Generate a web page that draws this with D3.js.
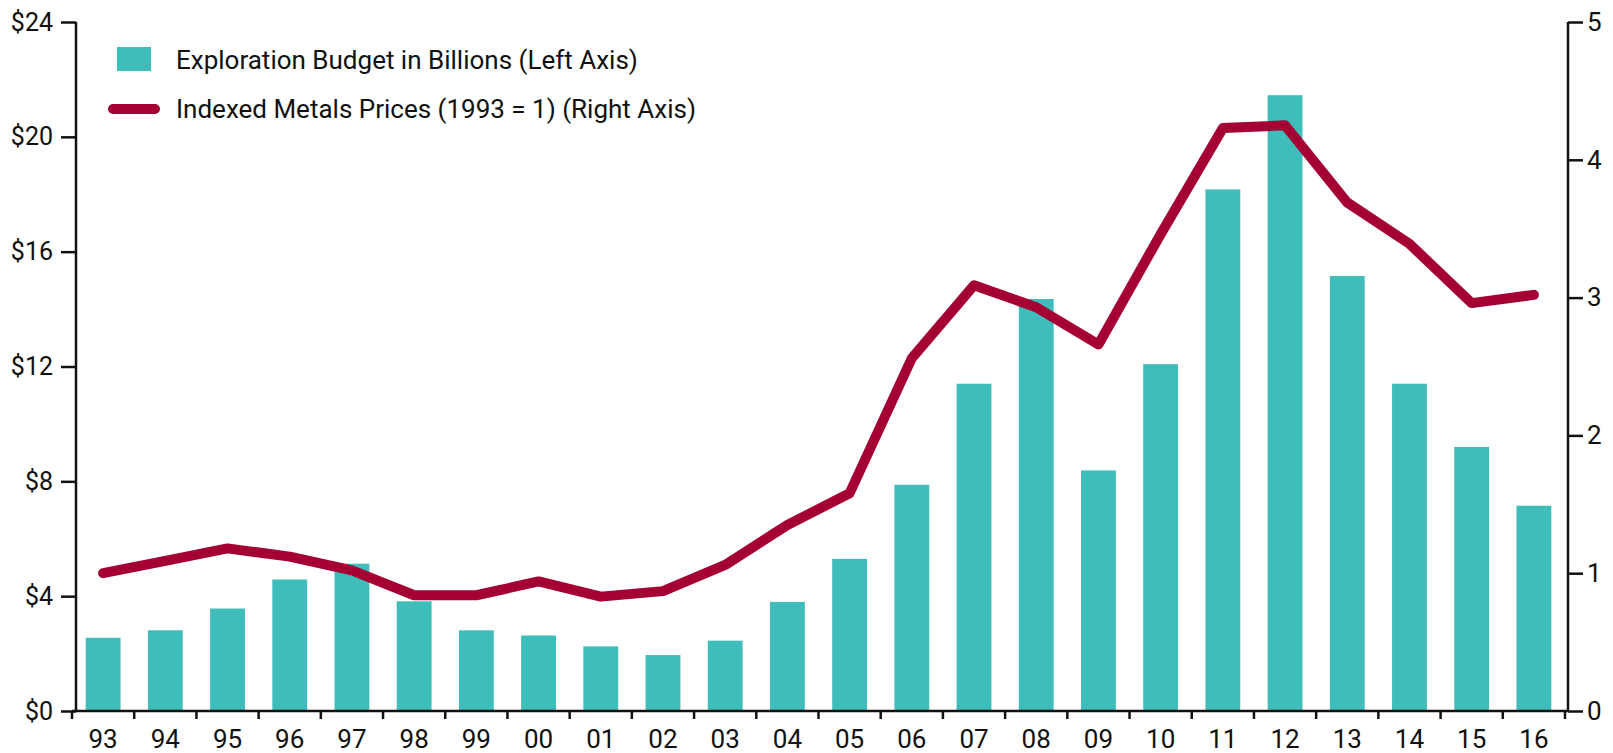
<!DOCTYPE html>
<html>
<head>
<meta charset="utf-8">
<script src="https://cdn.jsdelivr.net/npm/d3@7"></script>
<style>
    body { margin: 0; background: #fff; }
    svg text { font-family: Roboto, 'Open Sans', sans-serif; fill: #111; }
    .axis path, .axis line { stroke: #111; stroke-width: 2.5; }
</style>
</head>
<body>
<div id="chart"></div>
<script>
// Data
var years = ['93', '94', '95', '96', '97', '98', '99', '00', '01', '02', '03', '04',
    '05', '06', '07', '08', '09', '10', '11', '12', '13', '14', '15', '16'];
var budget = [2.55, 2.81, 3.57, 4.58, 5.13, 3.82, 2.81, 2.63, 2.25, 1.95, 2.45, 3.8,
    5.3, 7.88, 11.4, 14.35, 8.38, 12.08, 18.17, 21.45, 15.15, 11.4, 9.2, 7.15];
var metals = [1.0, 1.09, 1.18, 1.12, 1.02, 0.84, 0.84, 0.94, 0.83, 0.87, 1.06, 1.35,
    1.58, 2.56, 3.09, 2.93, 2.66, 3.46, 4.23, 4.25, 3.69, 3.39, 2.96, 3.02];
var leftTicks = [0, 4, 8, 12, 16, 20, 24];
var rightTicks = [0, 1, 2, 3, 4, 5];
var legendLabels = ['Exploration Budget in Billions (Left Axis)', 'Indexed Metals Prices (1993 = 1) (Right Axis)'];

var colors = { bar: '#3EBDBA', line: '#A50034' };

var W = 1613, H = 753;
var svg = d3.select('#chart').append('svg').attr('width', W).attr('height', H);

// Scales
var x = d3.scaleBand().domain(years).range([72, 1565]).paddingInner(0.44).paddingOuter(0.22);
var yL = d3.scaleLinear().domain([0, 24]).range([711, 22]);
var yR = d3.scaleLinear().domain([0, 5]).range([711, 22]);

// Bars
svg.append('g')
    .selectAll('rect')
    .data(budget)
    .enter()
    .append('rect')
    .attr('x', (d, i) => x(years[i]))
    .attr('y', (d) => yL(d))
    .attr('width', x.bandwidth())
    .attr('height', (d) => yL(0) - yL(d))
    .attr('fill', colors.bar);

// Line
var line = d3.line()
    .x((d, i) => x(years[i]) + x.bandwidth() / 2)
    .y((d) => yR(d));
svg.append('path')
    .datum(metals)
    .attr('d', line)
    .attr('fill', 'none')
    .attr('stroke', colors.line)
    .attr('stroke-width', 10)
    .attr('stroke-linejoin', 'round')
    .attr('stroke-linecap', 'round');

// Left axis
var gL = svg.append('g').attr('class', 'axis')
    .attr('transform', 'translate(76,0)')
    .call(d3.axisLeft(yL).tickValues(leftTicks).tickSize(15).tickPadding(8).tickFormat((d) => '$' + d));
gL.select('.domain').attr('d', 'M0,' + yL(24) + 'V' + yL(0));
gL.selectAll('text').style('font-size', '25px');

// Right axis
var gR = svg.append('g').attr('class', 'axis')
    .attr('transform', 'translate(1568,0)')
    .call(d3.axisRight(yR).tickValues(rightTicks).tickSize(15).tickPadding(4).tickFormat(d3.format('d')));
gR.select('.domain').attr('d', 'M0,' + yR(5) + 'V' + yR(0));
gR.selectAll('text').style('font-size', '26px');

// X axis
var gX = svg.append('g').attr('class', 'axis').attr('transform', 'translate(0,' + yL(0) + ')');
gX.append('path').attr('d', 'M72,0H1568');
var step = x.step();
gX.selectAll('.tick-mark')
    .data(d3.range(years.length + 1))
    .enter()
    .append('line')
    .attr('x1', (i) => x.range()[0] + i * step)
    .attr('x2', (i) => x.range()[0] + i * step)
    .attr('y1', 0)
    .attr('y2', 8);
gX.selectAll('text')
    .data(years)
    .enter()
    .append('text')
    .attr('x', (d) => x(d) + x.bandwidth() / 2)
    .attr('y', 37)
    .attr('text-anchor', 'middle')
    .style('font-size', '26px')
    .text((d) => d);

// Legend
var lg = svg.append('g');
lg.append('rect').attr('x', 117).attr('y', 47).attr('width', 34).attr('height', 24).attr('fill', colors.bar);
lg.append('line').attr('x1', 113).attr('x2', 155).attr('y1', 109).attr('y2', 109)
    .attr('stroke', colors.line).attr('stroke-width', 10).attr('stroke-linecap', 'round');
lg.selectAll('text')
    .data(legendLabels)
    .enter()
    .append('text')
    .attr('x', 176)
    .attr('y', (d, i) => 69 + i * 48.5)
    .style('font-size', '26px')
    .text((d) => d);
</script>
</body>
</html>
